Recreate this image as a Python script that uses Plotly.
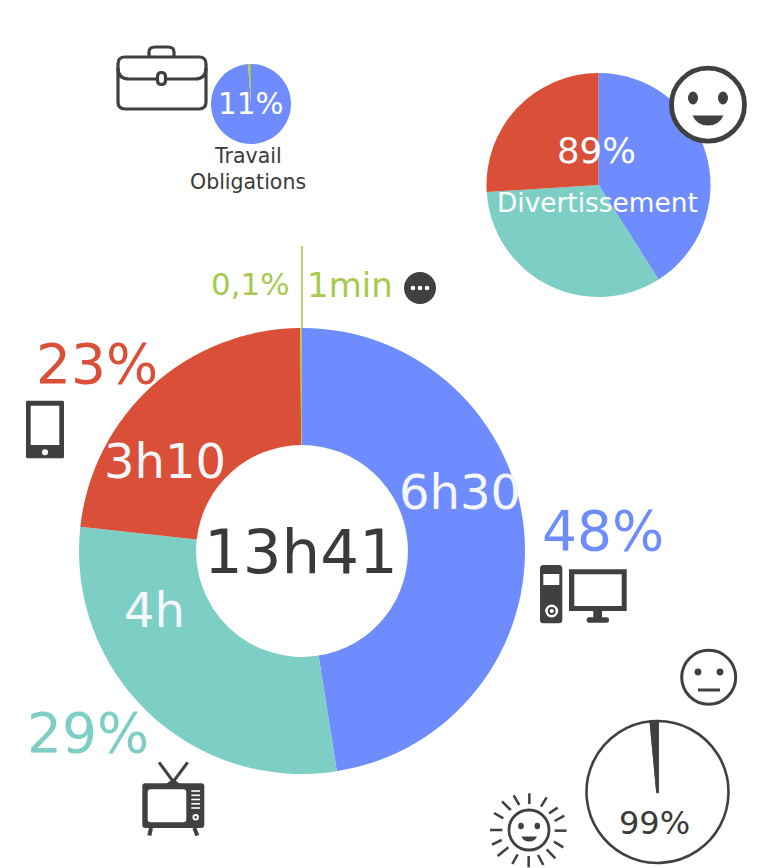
import plotly.graph_objects as go

# ---------- data ----------
main_labels = ["Ordinateur", "Télévision", "Mobile", "Autre"]
main_minutes = [390, 240, 190, 1]
fun_labels = ["Ordinateur", "Télévision", "Mobile"]
fun_shares = [41, 33, 26]
work_labels = ["Ordinateur", "Autre"]
work_shares = [98.8, 1.2]
mood_labels = ["Positif", "Négatif"]
mood_shares = [98.5, 1.5]

BLUE, TEAL, RED, GREEN, DARK = "#6f8cff", "#7dcfc5", "#d94f38", "#a8c94f", "#404040"
W, H = 765, 868
FONT = "DejaVu Sans"

X = lambda x: x / W
Y = lambda y: 1 - y / H


def domain(cx, cy, r):
    return dict(x=[X(cx - r), X(cx + r)], y=[Y(cy + r), Y(cy - r)])


def pie(labels, values, colors, cx, cy, r, hole=0, line=None):
    return go.Pie(labels=labels, values=values, sort=False, direction="clockwise", rotation=0,
                  hole=hole, domain=domain(cx, cy, r), textinfo="none", hoverinfo="label+percent",
                  showlegend=False, marker=dict(colors=colors, line=line or dict(width=0)))


fig = go.Figure([
    pie(main_labels, main_minutes, [BLUE, TEAL, RED, GREEN], 302, 551, 223, hole=0.475),
    pie(fun_labels, fun_shares, [BLUE, TEAL, RED], 598.5, 185, 112),
    pie(work_labels, work_shares, [BLUE, GREEN], 251, 104, 40),
    pie(mood_labels, mood_shares, ["#ffffff", DARK], 657.5, 792, 71, line=dict(color=DARK, width=2.6)),
])

shapes, notes = [], []


def base(fill, stroke, width):
    return dict(xref="paper", yref="paper", fillcolor=fill, layer="above",
                line=dict(color=stroke or "rgba(0,0,0,0)", width=width if stroke else 0))


def line(x0, y0, x1, y1, color=DARK, width=2.5):
    shapes.append(dict(type="line", x0=X(x0), y0=Y(y0), x1=X(x1), y1=Y(y1), xref="paper", yref="paper",
                       layer="above", line=dict(color=color, width=width)))


def ell(cx, cy, rx, ry=None, fill=DARK, stroke=None, width=0):
    ry = ry or rx
    shapes.append(dict(type="circle", x0=X(cx - rx), x1=X(cx + rx), y0=Y(cy + ry), y1=Y(cy - ry),
                       **base(fill, stroke, width)))


def path(cmds, fill=DARK, stroke=None, width=0):
    out = []
    for c in cmds:
        if isinstance(c, str):
            out.append(c)
        else:
            out.append(f"{X(c[0]):.5f},{Y(c[1]):.5f}")
    shapes.append(dict(type="path", path=" ".join(out), **base(fill, stroke, width)))


def rrect(x0, y0, x1, y1, r=0, fill=DARK, stroke=None, width=0):
    path(["M", (x0 + r, y0), "L", (x1 - r, y0), "Q", (x1, y0), (x1, y0 + r), "L", (x1, y1 - r),
          "Q", (x1, y1), (x1 - r, y1), "L", (x0 + r, y1), "Q", (x0, y1), (x0, y1 - r),
          "L", (x0, y0 + r), "Q", (x0, y0), (x0 + r, y0), "Z"], fill, stroke, width)


def text(x, y, s, size, color):
    notes.append(dict(x=X(x), y=Y(y), xref="paper", yref="paper", text=s, showarrow=False,
                      xanchor="center", yanchor="middle", font=dict(family=FONT, size=size, color=color)))


# green leader above the main donut
line(302, 246, 302, 328, GREEN, 1.6)

# briefcase
path(["M", (149, 56), "L", (149, 52), "Q", (149, 47), (155, 47), "L", (168, 47), "Q", (174, 47), (174, 52),
      "L", (174, 56)], "rgba(0,0,0,0)", DARK, 3.2)
rrect(118, 57, 206, 109, 7, "#ffffff", DARK, 3.2)
path(["M", (118, 68), "Q", (118, 79), (129, 79), "L", (195, 79), "Q", (206, 79), (206, 68)], "rgba(0,0,0,0)", DARK, 3.2)
rrect(157.5, 72.5, 165.5, 84.5, 4, "#ffffff", DARK, 3.2)

# happy face
ell(708, 104.7, 36.5, fill="#ffffff", stroke=DARK, width=4.8)
ell(693, 98, 5, 6.5)
ell(723, 98, 5, 6.5)
path(["M", (692.5, 115.5), "L", (723.5, 115.5), "Q", (719, 125.5), (708, 125.5), "Q", (697, 125.5), (692.5, 115.5), "Z"])

# "other" icon
ell(420, 288, 16)
for dx in (413, 420, 427):
    ell(dx, 288, 2.3, fill="#ffffff")

# phone
rrect(26, 400.7, 64, 458.3, 1.5)
rrect(30.7, 405.7, 59.3, 445, 0, "#ffffff")
ell(45, 452.3, 3, fill="#ffffff")

# computer
rrect(540, 565, 562.3, 623.3, 3.5)
rrect(543.3, 574, 559.3, 585, 0, "#ffffff")
ell(551.7, 611, 6.5, fill="#ffffff")
ell(551.7, 611, 3, fill="rgba(0,0,0,0)", stroke=DARK, width=1.8)
rrect(569, 569.3, 626.7, 611)
rrect(574.3, 574.3, 621.7, 606, 0, "#ffffff")
rrect(593.3, 611, 602, 618)
rrect(586.7, 617.3, 609, 622.7, 2.5)

# television
line(159, 762.3, 173.3, 781.7, DARK, 3)
line(187.7, 762.3, 173.3, 781.7, DARK, 3)
path(["M", (166, 784), "L", (173.3, 778.5), "L", (180, 784), "Z"])
rrect(142.3, 783.3, 204.3, 828, 3)
rrect(147.7, 789.3, 186.3, 822.3, 3, "#ffffff")
for gy in (791, 795.3, 799.5, 803.8, 808):
    line(191.3, gy, 200, gy, "#ffffff", 1.6)
ell(195.7, 817.3, 3.2, fill="#ffffff")
ell(195.7, 817.3, 1.3)
line(151, 828, 149.3, 835.5, DARK, 4)
line(194.3, 828, 197.3, 835.5, DARK, 4)

# neutral face
ell(708.7, 677.3, 27, fill="#ffffff", stroke=DARK, width=3)
ell(698, 672, 3.4)
ell(720, 672, 3.4)
line(698, 690, 720, 690, DARK, 3)

# sun
ell(529, 830, 20, fill="#ffffff", stroke=DARK, width=2.8)
ell(521, 826, 2.8, 3.2)
ell(537.3, 826, 2.8, 3.2)
path(["M", (521.5, 836.5), "L", (537, 836.5), "Q", (535, 841.5), (529, 841.5), "Q", (523.5, 841.5), (521.5, 836.5), "Z"])
rays = [(148, 460, 148, 492), (183, 500, 200, 472), (207, 520, 233, 503), (224, 543, 253, 527),
        (224, 572, 260, 572), (222, 605, 250, 622), (200, 628, 226, 655), (174, 645, 190, 675),
        (146, 648, 146, 682), (113, 643, 97, 672), (85, 622, 53, 648), (65, 600, 36, 614),
        (30, 570, 67, 570), (70, 535, 42, 519), (92, 510, 66, 484), (118, 495, 101, 466)]
for a, b, c, d in rays:
    line(480 + a / 3, 640 + b / 3, 480 + c / 3, 640 + d / 3, DARK, 2.5)

# text
text(301, 551, "13h41", 61, "#3a3a3a")
text(460, 492, "6h30", 48, "#f4f6fa")
text(165, 461, "3h10", 48, "#f4f6fa")
text(154, 610, "4h", 48, "#f4f6fa")
text(97, 364, "23%", 55, RED)
text(603, 531, "48%", 55, BLUE)
text(88, 733, "29%", 55, TEAL)
text(250, 284, "0,1%", 31, GREEN)
text(350, 285, "1min", 34, GREEN)
text(250.5, 104, "11%", 29.5, "#ffffff")
text(248, 156, "Travail", 20.5, "#3a3a3a")
text(248, 182, "Obligations", 20.5, "#3a3a3a")
text(596, 151, "89%", 35.5, "#ffffff")
text(597, 202, "Divertissement", 26.4, "#ffffff")
text(654, 823, "99%", 32, "#3a3a3a")

fig.update_layout(width=W, height=H, margin=dict(l=0, r=0, t=0, b=0), paper_bgcolor="#ffffff",
                  plot_bgcolor="#ffffff", shapes=shapes, annotations=notes, font=dict(family=FONT))
fig.write_html("out.html", config=dict(displayModeBar=False),
               post_script="document.body.style.margin='0';document.documentElement.style.overflow='hidden';")
